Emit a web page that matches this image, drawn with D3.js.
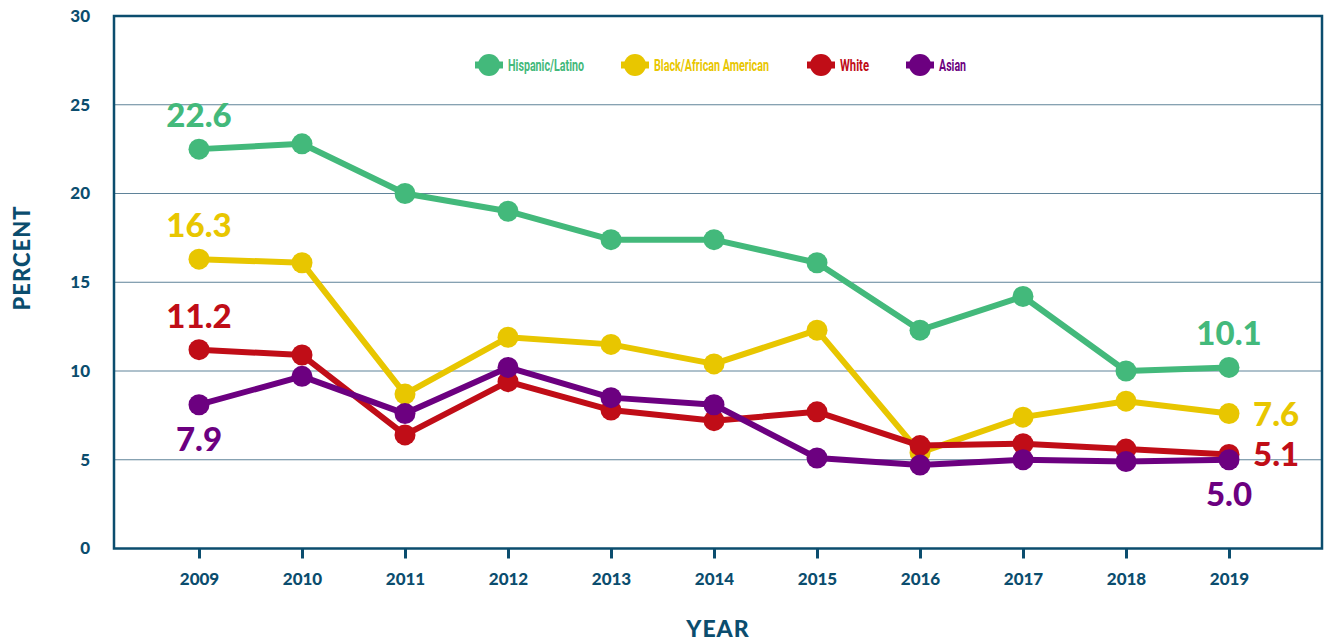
<!DOCTYPE html>
<html lang="en">
<head>
<meta charset="UTF-8">
<title>percent by year</title>
<script src="https://cdnjs.cloudflare.com/ajax/libs/d3/7.8.5/d3.min.js"></script>
<style>
    * { margin: 0; padding: 0; }
    body { background: #fff; font-family: "Lato", sans-serif; }
    .axis text { font-family: "Lato", sans-serif; font-weight: 900; fill: #0b4d6e; }
    .legend text { font-family: "Liberation Sans Narrow", "Roboto", sans-serif; font-weight: 700; font-size: 17px; }
</style>
</head>
<body>
<svg id="chart" width="1326" height="644"></svg>
<script>
    var years = [2009, 2010, 2011, 2012, 2013, 2014, 2015, 2016, 2017, 2018, 2019];
    var yTicks = [0, 5, 10, 15, 20, 25, 30];

    var seriesNames = ["Hispanic/Latino", "Black/African American", "White", "Asian"];
    var seriesColors = ["#43b97b", "#e8c600", "#c00d17", "#6c0080"];

    var hispanic = [22.5, 22.8, 20.0, 19.0, 17.4, 17.4, 16.1, 12.3, 14.2, 10.0, 10.2];
    var black = [16.3, 16.1, 8.7, 11.9, 11.5, 10.4, 12.3, 5.4, 7.4, 8.3, 7.6];
    var white = [11.2, 10.9, 6.4, 9.4, 7.8, 7.2, 7.7, 5.8, 5.9, 5.6, 5.3];
    var asian = [8.1, 9.7, 7.6, 10.2, 8.5, 8.1, 5.1, 4.7, 5.0, 4.9, 5.0];
    var allSeries = [hispanic, black, white, asian];

    // end labels: [series index, year index, text, placement]
    var valueLabels = [
        [0, 0, "22.6", "above"], [1, 0, "16.3", "above"], [2, 0, "11.2", "above"], [3, 0, "7.9", "below"],
        [0, 10, "10.1", "above"], [1, 10, "7.6", "right"], [2, 10, "5.1", "right"], [3, 10, "5.0", "below"]
    ];

    var plotLeft = 114, plotRight = 1322, plotTop = 16, plotBottom = 548.5;
    var axisColor = "#0b4d6e";

    var svg = d3.select("#chart");

    var x = d3.scaleLinear().domain([2009, 2019]).range([199, 1229]);
    var y = d3.scaleLinear().domain([0, 30]).range([plotBottom, plotTop]);

    // gridlines
    svg.append("g").selectAll("line")
        .data(yTicks.filter(function(d) { return d > 0 && d < 30; }))
        .enter().append("line")
        .attr("x1", plotLeft).attr("x2", plotRight)
        .attr("y1", function(d) { return y(d); })
        .attr("y2", function(d) { return y(d); })
        .attr("stroke", "#5f8399")
        .attr("stroke-width", 1);

    // frame
    svg.append("rect")
        .attr("x", plotLeft).attr("y", plotTop)
        .attr("width", plotRight - plotLeft).attr("height", plotBottom - plotTop)
        .attr("fill", "none")
        .attr("stroke", axisColor)
        .attr("stroke-width", 2.5);

    // y axis labels
    var yAxis = d3.axisLeft(y).tickValues(yTicks).tickSize(0).tickPadding(24);
    svg.append("g").attr("class", "axis")
        .attr("transform", "translate(" + plotLeft + ",0)")
        .call(yAxis)
        .call(function(g) { g.select(".domain").remove(); })
        .selectAll("text").style("font-size", "17px");

    // x axis
    var xAxis = d3.axisBottom(x).tickValues(years).tickFormat(d3.format("d")).tickSize(10).tickPadding(14);
    var xg = svg.append("g").attr("class", "axis")
        .attr("transform", "translate(0," + plotBottom + ")")
        .call(xAxis);
    xg.select(".domain").remove();
    xg.selectAll("line").attr("stroke", axisColor).attr("stroke-width", 3);
    xg.selectAll("text").style("font-size", "17px");

    // axis titles
    svg.append("text")
        .attr("transform", "translate(30,258) rotate(-90)")
        .attr("text-anchor", "middle")
        .style("font-family", "Lato").style("font-weight", 900).style("font-size", "22px")
        .style("letter-spacing", "1px")
        .attr("fill", axisColor)
        .text("PERCENT");

    svg.append("text")
        .attr("x", 718).attr("y", 637)
        .attr("text-anchor", "middle")
        .style("font-family", "Lato").style("font-weight", 900).style("font-size", "23px")
        .style("letter-spacing", "1px")
        .attr("fill", axisColor)
        .text("YEAR");

    // lines + dots
    var line = d3.line()
        .x(function(d, i) { return x(years[i]); })
        .y(function(d) { return y(d); });

    allSeries.forEach(function(values, s) {
        var g = svg.append("g");
        g.append("path")
            .datum(values)
            .attr("d", line)
            .attr("fill", "none")
            .attr("stroke", seriesColors[s])
            .attr("stroke-width", 6)
            .attr("stroke-linejoin", "round");
        g.selectAll("circle")
            .data(values)
            .enter().append("circle")
            .attr("cx", function(d, i) { return x(years[i]); })
            .attr("cy", function(d) { return y(d); })
            .attr("r", 10.5)
            .attr("fill", seriesColors[s]);
    });

    // value labels
    valueLabels.forEach(function(l) {
        var v = allSeries[l[0]][l[1]];
        var cx = x(years[l[1]]), cy = y(v);
        var t = svg.append("text")
            .style("font-family", "Lato").style("font-weight", 900).style("font-size", "33px")
            .attr("fill", seriesColors[l[0]])
            .text(l[2]);
        if (l[3] === "above") {
            t.attr("x", cx).attr("y", cy - 22).attr("text-anchor", "middle");
        } else if (l[3] === "below") {
            t.attr("x", cx).attr("y", cy + 46).attr("text-anchor", "middle");
        } else {
            t.attr("x", cx + 24).attr("y", cy + 12).attr("text-anchor", "start");
        }
    });

    // legend
    var legendX = [475, 621, 807, 906];
    var legendTextW = [76, 115, 29, 27];
    var legend = svg.append("g").attr("class", "legend");
    seriesNames.forEach(function(name, i) {
        var lg = legend.append("g").attr("transform", "translate(" + legendX[i] + ",65)");
        lg.append("line").attr("x1", 0).attr("x2", 28).attr("y1", 0).attr("y2", 0)
            .attr("stroke", seriesColors[i]).attr("stroke-width", 7);
        lg.append("circle").attr("cx", 14).attr("cy", 0).attr("r", 11).attr("fill", seriesColors[i]);
        lg.append("text").attr("x", 33).attr("y", 6).attr("fill", seriesColors[i])
            .attr("textLength", legendTextW[i]).attr("lengthAdjust", "spacingAndGlyphs")
            .text(name);
    });
</script>
</body>
</html>
